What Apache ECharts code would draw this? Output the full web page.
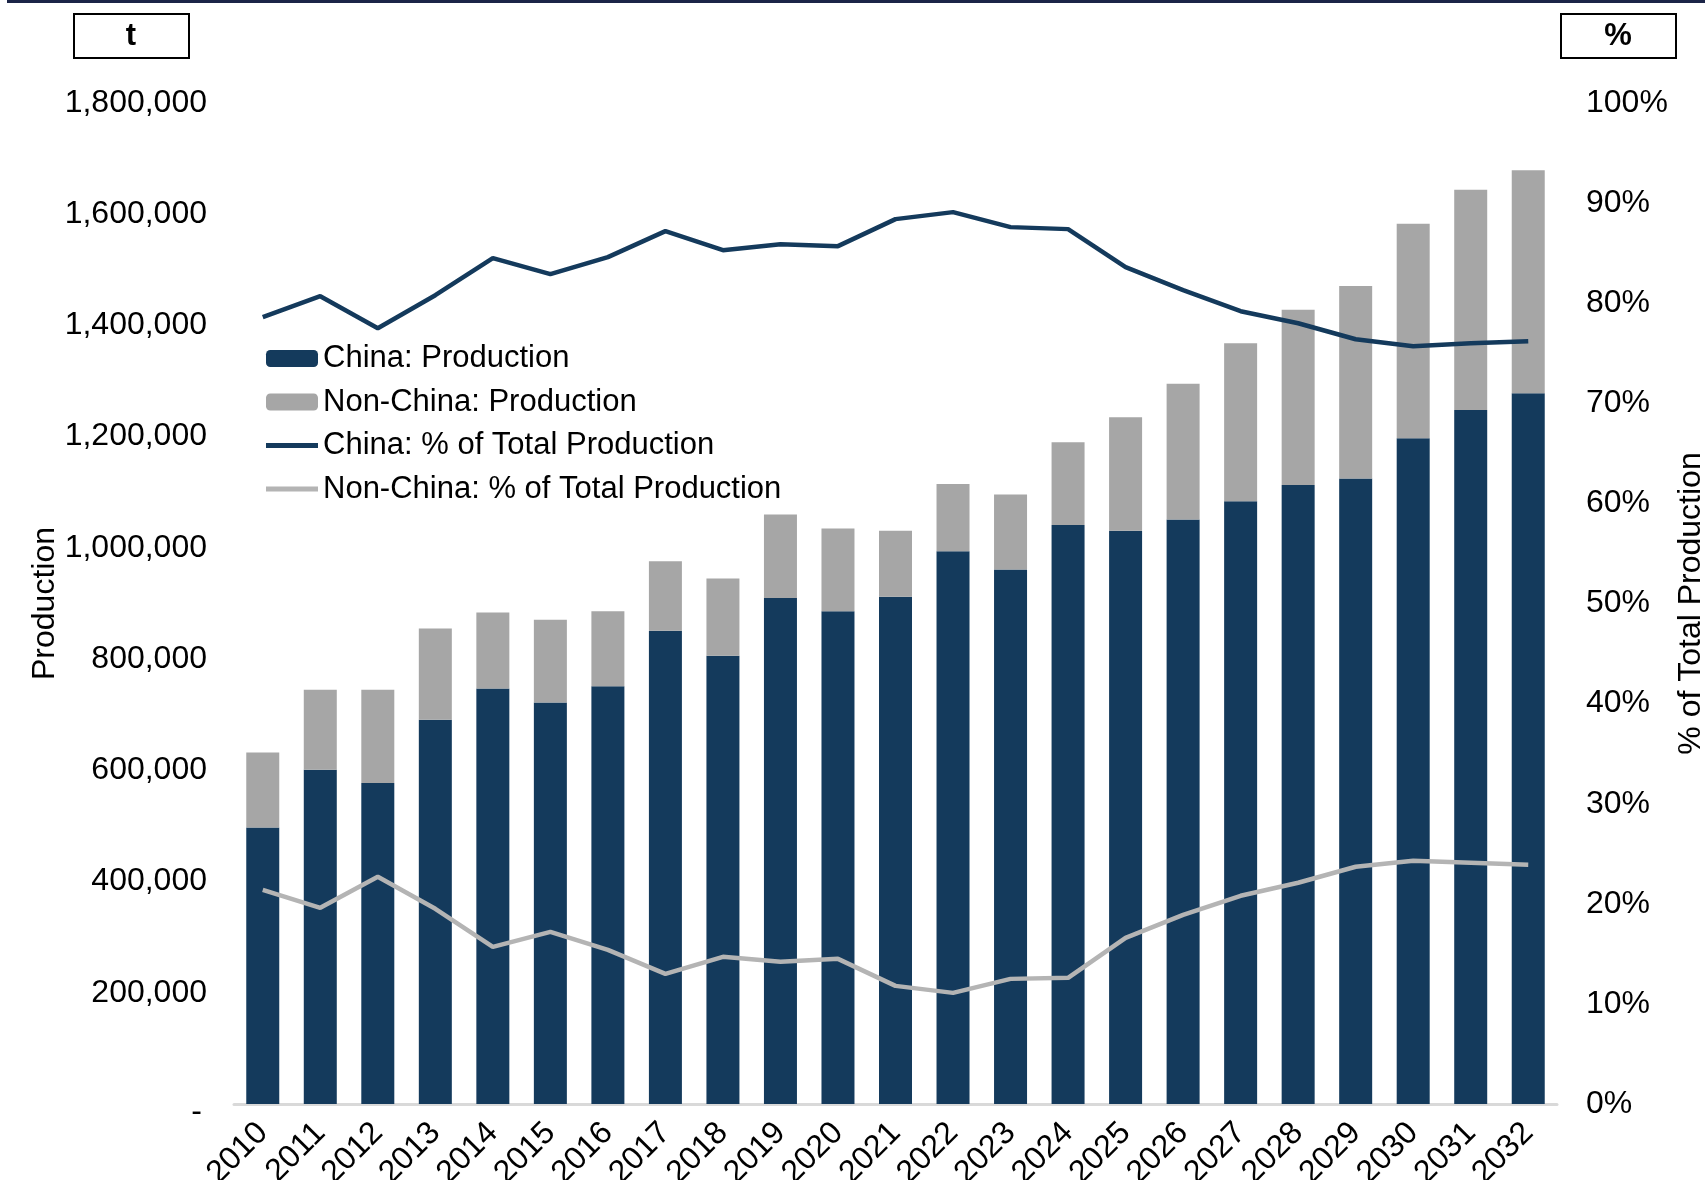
<!DOCTYPE html>
<html>
<head>
<meta charset="utf-8">
<title>China vs Non-China Production</title>
<script src="https://cdn.jsdelivr.net/npm/echarts@6/dist/echarts.min.js"></script>
<style>
  html, body { margin: 0; padding: 0; background: #fff; }
  #chart { width: 1705px; height: 1180px; }
</style>
</head>
<body>
<div id="chart"></div>
<script>
var years = ['2010', '2011', '2012', '2013', '2014', '2015', '2016', '2017', '2018', '2019', '2020', '2021',
  '2022', '2023', '2024', '2025', '2026', '2027', '2028', '2029', '2030', '2031', '2032']
// tonnes
var chinaProd = [497000, 601000, 577000, 691000, 747000, 722000, 751000, 851000, 806000, 910000, 886000, 912000,
  994000, 961000, 1041000, 1031000, 1051000, 1084000, 1113000, 1125000, 1197000, 1248000, 1278000]
var nonChinaProd = [135000, 144000, 168000, 164000, 137000, 149000, 135000, 125000, 139000, 150000, 149000, 119000,
  121000, 135000, 149000, 204000, 244000, 284000, 315000, 346000, 386000, 396000, 401000]
// % of total
var chinaPct = [78.6, 80.7, 77.5, 80.8, 84.5, 82.9, 84.6, 87.2, 85.3, 85.9, 85.7, 88.4,
  89.1, 87.6, 87.4, 83.6, 81.3, 79.2, 78.0, 76.4, 75.7, 76.0, 76.2]
var nonChinaPct = [21.4, 19.6, 22.7, 19.5, 15.7, 17.2, 15.4, 13.0, 14.7, 14.2, 14.5, 11.8,
  11.1, 12.5, 12.6, 16.6, 18.9, 20.8, 22.1, 23.7, 24.3, 24.1, 23.9]

var navy = '#143A5C'
var grey = '#A6A6A6'
var lightGrey = '#B4B4B4'
var font = 'Liberation Sans, Arial, sans-serif'
var lineIcon = 'path://M0,0L52,0L52,5L0,5Z'

var myChart = echarts.init(document.getElementById('chart'))
var option = {
  backgroundColor: '#fff',
  animation: false,
  textStyle: { fontFamily: font },
  graphic: [
    { type: 'rect', shape: { x: 7, y: 0, width: 1698, height: 3 }, style: { fill: '#1B2447' } },
    { type: 'rect', shape: { x: 74, y: 14, width: 115, height: 44 }, style: { fill: '#fff', stroke: '#000', lineWidth: 2 } },
    { type: 'text', x: 131, y: 36, style: { text: 't', font: 'bold 31px ' + font, fill: '#000', align: 'center', verticalAlign: 'middle' } },
    { type: 'rect', shape: { x: 1561, y: 14, width: 115, height: 44 }, style: { fill: '#fff', stroke: '#000', lineWidth: 2 } },
    { type: 'text', x: 1618, y: 36, style: { text: '%', font: 'bold 31px ' + font, fill: '#000', align: 'center', verticalAlign: 'middle' } }
  ],
  legend: {
    orient: 'vertical',
    left: 261,
    top: 338,
    itemWidth: 52,
    itemHeight: 17,
    itemGap: 12.5,
    textStyle: { fontSize: 31, color: '#000', fontFamily: font },
    data: [
      { name: 'China: Production' },
      { name: 'Non-China: Production' },
      { name: 'China: % of Total Production', icon: lineIcon },
      { name: 'Non-China: % of Total Production', icon: lineIcon }
    ]
  },
  grid: { left: 234, right: 148, top: 103, bottom: 76, outerBoundsMode: 'none', containLabel: false },
  xAxis: {
    type: 'category',
    data: years,
    axisLine: { show: true, lineStyle: { color: '#D9D9D9', width: 3 } },
    axisTick: { show: false },
    axisLabel: { interval: 0, rotate: 45, margin: 24, fontSize: 32, color: '#000', fontFamily: font, hideOverlap: false }
  },
  yAxis: [{
    type: 'value',
    name: 'Production',
    nameLocation: 'middle',
    nameGap: 173,
    nameRotate: 90,
    nameMoveOverlap: false,
    nameTextStyle: { fontSize: 32, color: '#000', fontFamily: font },
    min: 0,
    max: 1800000,
    interval: 200000,
    splitLine: { show: false },
    axisLine: { show: false },
    axisTick: { show: false },
    axisLabel: {
      margin: 27,
      fontSize: 32,
      color: '#000',
      fontFamily: font,
      formatter: function (v) {
        if (v === 0) return '{dash|-}'
        return v.toString().replace(/\B(?=(\d{3})+(?!\d))/g, ',')
      },
      rich: { dash: { fontSize: 32, color: '#000', padding: [16, 5, 0, 0] } }
    }
  }, {
    type: 'value',
    name: '% of Total Production',
    nameLocation: 'middle',
    nameGap: 118,
    nameRotate: 90,
    nameMoveOverlap: false,
    nameTextStyle: { fontSize: 32, color: '#000', fontFamily: font },
    min: 0,
    max: 100,
    interval: 10,
    splitLine: { show: false },
    axisLine: { show: false },
    axisTick: { show: false },
    axisLabel: { margin: 29, fontSize: 32, color: '#000', fontFamily: font, formatter: '{value}%' }
  }],
  series: [{
    name: 'China: Production',
    type: 'bar',
    stack: 'prod',
    barWidth: 33,
    itemStyle: { color: navy },
    data: chinaProd
  }, {
    name: 'Non-China: Production',
    type: 'bar',
    stack: 'prod',
    barWidth: 33,
    itemStyle: { color: grey },
    data: nonChinaProd
  }, {
    name: 'China: % of Total Production',
    type: 'line',
    yAxisIndex: 1,
    symbol: 'none',
    lineStyle: { color: navy, width: 4.5 },
    itemStyle: { color: navy },
    data: chinaPct
  }, {
    name: 'Non-China: % of Total Production',
    type: 'line',
    yAxisIndex: 1,
    symbol: 'none',
    lineStyle: { color: lightGrey, width: 4.5 },
    itemStyle: { color: lightGrey },
    data: nonChinaPct
  }]
}
myChart.setOption(option)
</script>
</body>
</html>
